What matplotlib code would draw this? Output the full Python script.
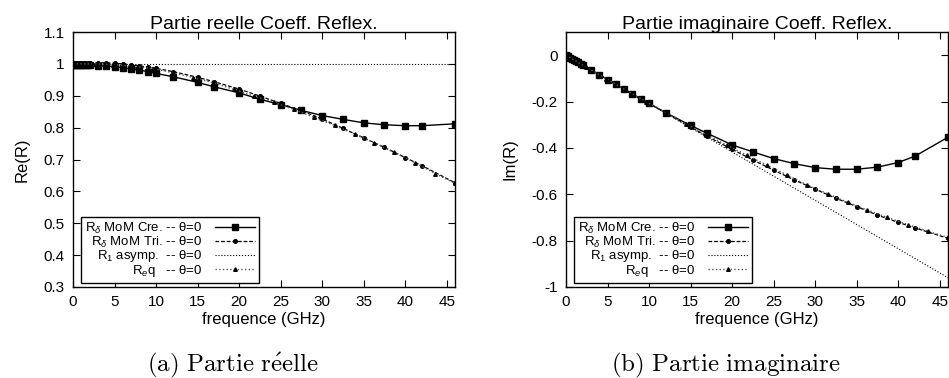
import matplotlib
matplotlib.use("Agg")
import matplotlib.pyplot as plt
import numpy as np

plt.rcParams['font.family'] = ['Liberation Sans', 'DejaVu Sans']
plt.rcParams['axes.unicode_minus'] = False
plt.rcParams['mathtext.fontset'] = 'custom'
plt.rcParams['mathtext.rm'] = 'Liberation Sans'
plt.rcParams['mathtext.it'] = 'Liberation Sans:italic'

# ---- data ----
f_mom = [0, 0.25, 0.5, 0.75, 1, 1.25, 1.5, 1.75, 2, 3, 4, 5, 6, 7, 8, 9, 10,
         12, 15, 17, 20, 22.5, 25, 27.5, 30, 32.5, 35, 37.5, 40, 42, 46]
re_cre = [0.996, 0.996, 0.996, 0.996, 0.996, 0.996, 0.995, 0.995, 0.995, 0.994, 0.993,
          0.991, 0.988, 0.984, 0.980, 0.976, 0.970, 0.960, 0.942, 0.928, 0.909, 0.889,
          0.872, 0.854, 0.838, 0.826, 0.815, 0.809, 0.806, 0.806, 0.812]
re_tri = [1.004, 1.004, 1.004, 1.004, 1.004, 1.004, 1.004, 1.004, 1.004, 1.004, 1.003,
          1.002, 1.000, 0.997, 0.994, 0.990, 0.986, 0.976, 0.958, 0.944, 0.921, 0.899,
          0.876, 0.853, 0.827, 0.798, 0.768, 0.738, 0.706, 0.681, 0.627]
im_cre = [0.0, -0.005, -0.010, -0.016, -0.021, -0.026, -0.031, -0.036, -0.042, -0.063,
          -0.084, -0.105, -0.126, -0.147, -0.168, -0.189, -0.208, -0.248, -0.303, -0.337,
          -0.387, -0.417, -0.446, -0.468, -0.485, -0.492, -0.492, -0.483, -0.463, -0.436, -0.354]
im_tri = [0.0, -0.005, -0.010, -0.016, -0.021, -0.026, -0.031, -0.036, -0.042, -0.063,
          -0.084, -0.105, -0.126, -0.147, -0.168, -0.189, -0.208, -0.249, -0.310, -0.350,
          -0.406, -0.452, -0.496, -0.538, -0.578, -0.617, -0.653, -0.690, -0.721, -0.745, -0.790]

f_asy = [0, 46]
re_asy = [1.0, 1.0]
im_asy = [0.0, -0.960]

f_req = [0, 2.42, 4.84, 7.26, 9.68, 12.1, 14.5, 16.9, 19.4, 21.8, 24.2, 26.6, 29.05,
         31.5, 33.9, 36.3, 38.7, 41.2, 43.6, 46]
re_req = [1.000, 1.000, 0.998, 0.993, 0.985, 0.972, 0.957, 0.940, 0.920, 0.898, 0.880,
          0.857, 0.832, 0.807, 0.780, 0.752, 0.722, 0.690, 0.656, 0.625]
im_req = [0.0, -0.051, -0.101, -0.152, -0.201, -0.250, -0.298, -0.343, -0.389, -0.432,
          -0.475, -0.516, -0.560, -0.598, -0.634, -0.668, -0.700, -0.731, -0.760, -0.786]

labels = [r'R$_\delta$ MoM Cre. -- θ=0',
          r'R$_\delta$ MoM Tri. -- θ=0',
          r'R$_1$ asymp.  -- θ=0',
          r'R$_e$q   -- θ=0']

xticks = [0, 5, 10, 15, 20, 25, 30, 35, 40, 45]
re_yticks = [0.3, 0.4, 0.5, 0.6, 0.7, 0.8, 0.9, 1.0, 1.1]
re_yticklabels = ['0.3', '0.4', '0.5', '0.6', '0.7', '0.8', '0.9', '1', '1.1']
im_yticks = [-1.0, -0.8, -0.6, -0.4, -0.2, 0.0]
im_yticklabels = ['-1', '-0.8', '-0.6', '-0.4', '-0.2', '0']

titles = ['Partie reelle Coeff. Reflex.', 'Partie imaginaire Coeff. Reflex.']
ylabels = ['Re(R)', 'Im(R)']
xlabel = 'frequence (GHz)'
captions = [r'$\mathrm{(a)\ Partie\ r\acute{e}elle}$', r'$\mathrm{(b)\ Partie\ imaginaire}$']

fig = plt.figure(figsize=(9.49, 3.78), dpi=100)
axL = fig.add_axes([73/949, 1-287/378, 382/949, 255/378])
axR = fig.add_axes([566/949, 1-287/378, 382/949, 255/378])

def draw(ax, ycre, ytri, yasy, yreq):
    h1, = ax.plot(f_mom, ycre, '-', color='black', lw=1.0, marker='s', ms=4)
    h2, = ax.plot(f_mom, ytri, '--', color='black', lw=0.9, marker='o', ms=2.6, dashes=(3, 1.5))
    h3, = ax.plot(f_asy, yasy, ':', color='black', lw=0.8)
    h4, = ax.plot(f_req, yreq, ':', color='0.35', lw=1.0, marker='^', ms=2.6, mfc='black', mec='black')
    return [h1, h2, h3, h4]

for ax, (ycre, ytri, yasy, yreq), yt, ytl, ylim, title, ylab, cap in [
        (axL, (re_cre, re_tri, re_asy, re_req), re_yticks, re_yticklabels, (0.3, 1.1), titles[0], ylabels[0], captions[0]),
        (axR, (im_cre, im_tri, im_asy, im_req), im_yticks, im_yticklabels, (-1.0, 0.1), titles[1], ylabels[1], captions[1])]:
    hs = draw(ax, ycre, ytri, yasy, yreq)
    ax.set_xlim(0, 46)
    ax.set_ylim(*ylim)
    ax.set_xticks(xticks)
    ax.set_xticklabels([str(v) for v in xticks])
    ax.set_yticks(yt)
    ax.set_yticklabels(ytl)
    ax.tick_params(direction='in', length=5, width=0.8, top=True, right=True, labelsize=11, pad=6)
    for s in ax.spines.values():
        s.set_linewidth(1.0)
    ax.set_title(title, fontsize=14, pad=2)
    ax.set_ylabel(ylab, fontsize=12, labelpad=10)
    ax.set_xlabel(xlabel, fontsize=12, labelpad=2)
    leg = ax.legend(hs, labels, loc='lower left', bbox_to_anchor=(0.021, 0.016),
                    borderaxespad=0, markerfirst=False, fontsize=9.5, handlelength=3.0,
                    labelspacing=-0.1, handletextpad=1.0, borderpad=0.3,
                    fancybox=False, framealpha=1, edgecolor='black')
    leg.get_frame().set_linewidth(1.0)
    bb = ax.get_position()
    fig.text(bb.x0 + bb.width/2 - 31/949, 1-371/378, cap, ha='center', va='baseline', fontsize=18,
             math_fontfamily='cm')

fig.savefig('out.png', dpi=100)
